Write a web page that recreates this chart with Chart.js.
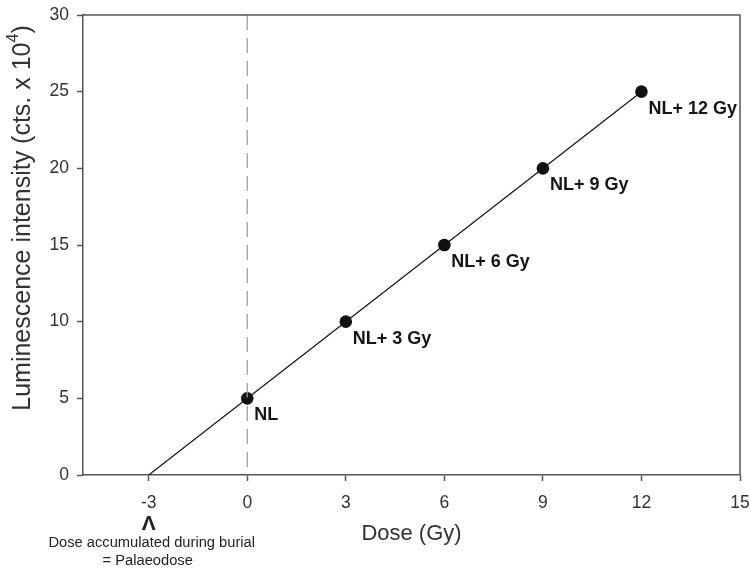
<!DOCTYPE html>
<html>
<head>
<meta charset="utf-8">
<script src="https://cdn.jsdelivr.net/npm/chart.js@4/dist/chart.umd.min.js"></script>
<style>
  html, body { margin: 0; padding: 0; background: #fff; }
  #wrap { width: 751px; height: 570px; }
</style>
</head>
<body>
<div id="wrap"><canvas id="c" width="751" height="570"></canvas></div>
<script>
const FONT = '"Liberation Sans", Arial, Helvetica, sans-serif';

// measured points: natural signal plus added doses
const DOSE   = [0, 3, 6, 9, 12];
const SIGNAL = [5, 10, 15, 20, 25];
const POINT_LABELS = ["NL", "NL+ 3 Gy", "NL+ 6 Gy", "NL+ 9 Gy", "NL+ 12 Gy"];

// fitted line extrapolated back to zero signal
const FIT_X = [-3, 12];
const FIT_Y = [0, 25];

// dashed marker at zero added dose
const ZERO_X = [0, 0];
const ZERO_Y = [30, 0];

const X_TICKS = [-3, 0, 3, 6, 9, 12, 15];
const Y_TICKS = [0, 5, 10, 15, 20, 25, 30];

const pts = (xs, ys) => xs.map((x, i) => ({ x: x, y: ys[i] }));

// frame, point labels, palaeodose note and the y title
const extras = {
  id: "extras",
  afterDatasetsDraw(chart) {
    const ctx = chart.ctx;
    const a = chart.chartArea;
    ctx.save();
    ctx.strokeStyle = "#555";
    ctx.lineWidth = 1.5;
    ctx.beginPath();
    ctx.moveTo(a.left, a.top);
    ctx.lineTo(a.right, a.top);
    ctx.lineTo(a.right, a.bottom);
    ctx.stroke();

    const meta = chart.getDatasetMeta(2);
    ctx.fillStyle = "#151515";
    ctx.font = "bold 18px " + FONT;
    ctx.textAlign = "left";
    ctx.textBaseline = "middle";
    meta.data.forEach((p, i) => {
      ctx.fillText(POINT_LABELS[i], p.x + 7, p.y + 17);
    });
    ctx.restore();
  },
  afterDraw(chart) {
    const ctx = chart.ctx;
    const xs = chart.scales.x;
    const px = xs.getPixelForValue(FIT_X[0]);
    ctx.save();
    ctx.fillStyle = "#222";
    ctx.textAlign = "center";
    ctx.textBaseline = "middle";
    ctx.font = "bold 21px " + FONT;
    ctx.fillText("\u039B", px, 524);
    ctx.font = "14.7px " + FONT;
    ctx.fillText("Dose accumulated during burial", px + 3, 543);
    ctx.fillText("= Palaeodose", px - 1, 561);

    // rotated y title with a raised exponent
    const main = "Luminescence intensity (cts. x 10";
    const sup = "4";
    const tail = ")";
    ctx.font = "25px " + FONT;
    const wMain = ctx.measureText(main).width;
    const wTail = ctx.measureText(tail).width;
    ctx.font = "16px " + FONT;
    const wSup = ctx.measureText(sup).width;
    const total = wMain + wSup + wTail;
    ctx.translate(23, 218);
    ctx.rotate(-Math.PI / 2);
    ctx.textAlign = "left";
    ctx.fillStyle = "#333";
    const x0 = -total / 2;
    ctx.font = "25px " + FONT;
    ctx.fillText(main, x0, 0);
    ctx.font = "16px " + FONT;
    ctx.fillText(sup, x0 + wMain, -9);
    ctx.font = "25px " + FONT;
    ctx.fillText(tail, x0 + wMain + wSup, 0);
    ctx.restore();
  }
};

new Chart(document.getElementById("c"), {
  type: "scatter",
  data: {
    datasets: [
      {
        data: pts(FIT_X, FIT_Y),
        showLine: true,
        borderColor: "#111",
        borderWidth: 1.2,
        pointRadius: 0
      },
      {
        data: pts(ZERO_X, ZERO_Y),
        showLine: true,
        borderColor: "#999",
        borderWidth: 1.2,
        borderDash: [15, 8],
        pointRadius: 0
      },
      {
        data: pts(DOSE, SIGNAL),
        showLine: false,
        pointRadius: 6.3,
        pointBackgroundColor: "#111",
        pointBorderColor: "#111",
        pointBorderWidth: 0
      }
    ]
  },
  options: {
    responsive: false,
    animation: false,
    devicePixelRatio: 1,
    layout: { padding: { top: 15, right: 11, left: 0, bottom: 0 } },
    plugins: { legend: { display: false }, tooltip: { enabled: false } },
    scales: {
      x: {
        type: "linear",
        min: -5,
        max: 15,
        afterBuildTicks: (s) => { s.ticks = X_TICKS.map((v) => ({ value: v })); },
        afterFit: (s) => { s.height = 95; s.paddingLeft = 0; s.paddingRight = 0; },
        grid: { drawOnChartArea: false, drawTicks: true, tickLength: 6, tickColor: "#555", tickWidth: 1.5 },
        border: { display: true, color: "#555", width: 1.5 },
        ticks: { color: "#333", font: { family: FONT, size: 17.5 }, padding: 12, maxRotation: 0 },
        title: {
          display: true,
          text: "Dose (Gy)",
          color: "#333",
          font: { family: FONT, size: 22 },
          padding: { top: 0, bottom: 23 }
        }
      },
      y: {
        type: "linear",
        min: 0,
        max: 30,
        afterBuildTicks: (s) => { s.ticks = Y_TICKS.map((v) => ({ value: v })); },
        afterFit: (s) => { s.width = 83; s.paddingTop = 0; s.paddingBottom = 0; },
        grid: { drawOnChartArea: false, drawTicks: true, tickLength: 6, tickColor: "#555", tickWidth: 1.5 },
        border: { display: true, color: "#555", width: 1.5 },
        ticks: { color: "#333", font: { family: FONT, size: 17.5 }, padding: 8 }
      }
    }
  },
  plugins: [extras]
});
</script>
</body>
</html>
